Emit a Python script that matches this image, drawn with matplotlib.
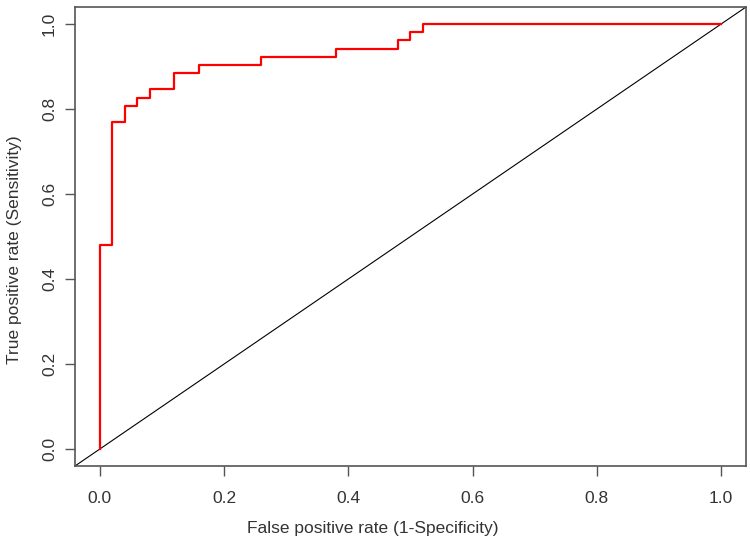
import matplotlib
matplotlib.use("Agg")
import matplotlib.pyplot as plt
import numpy as np

# ROC step points (false positive rate, true positive counts out of 52 positives)
fpr = [0.0, 0.0, 0.02, 0.04, 0.06, 0.08, 0.12, 0.16, 0.26, 0.38, 0.48, 0.50, 0.52, 1.0]
tp_counts = [0, 25, 40, 42, 43, 44, 46, 47, 48, 49, 50, 51, 52, 52]
n_pos = 52
tpr = [c / n_pos for c in tp_counts]

ticks = [0.0, 0.2, 0.4, 0.6, 0.8, 1.0]
tick_labels = ["0.0", "0.2", "0.4", "0.6", "0.8", "1.0"]

plt.rcParams['font.family'] = ['Liberation Sans', 'DejaVu Sans']

fig = plt.figure(figsize=(7.5, 5.4), dpi=100)
L, R, T, B = 75, 746, 7, 466
ax = fig.add_axes([L/750, 1 - B/540, (R - L)/750, (B - T)/540])

ax.set_xlim(-0.04, 1.04)
ax.set_ylim(-0.04, 1.04)

ax.plot([-0.04, 1.04], [-0.04, 1.04], color='black', lw=0.8)
ax.plot(fpr, tpr, drawstyle='steps-post', color='#ff0000', lw=1.6)

ax.set_xticks(ticks)
ax.set_xticklabels(tick_labels)
ax.set_yticks(ticks)
ax.set_yticklabels(tick_labels, rotation=90, va='center')

edge = '#555555'
for s in ax.spines.values():
    s.set_color(edge)
    s.set_linewidth(1.2)
ax.tick_params(direction='out', length=7, width=1.0, color=edge,
               labelsize=12.5, labelcolor='#333333')
ax.tick_params(axis='x', pad=11)
ax.tick_params(axis='y', pad=6)

ax.set_xlabel("False positive rate (1-Specificity)", fontsize=12.5, color='#333333')
ax.set_ylabel("True positive rate (Sensitivity)", fontsize=12.5, color='#333333')
# label positions (axes coordinates) as in the reference
ax.xaxis.set_label_coords((373 - L) / (R - L), -(529 - B) / (B - T), transform=ax.transAxes)
ax.xaxis.label.set_va('center')
ax.yaxis.set_label_coords(-(L - 15) / (R - L), (B - 250) / (B - T), transform=ax.transAxes)
ax.yaxis.label.set_va('center')

fig.savefig("out.png", dpi=100)
